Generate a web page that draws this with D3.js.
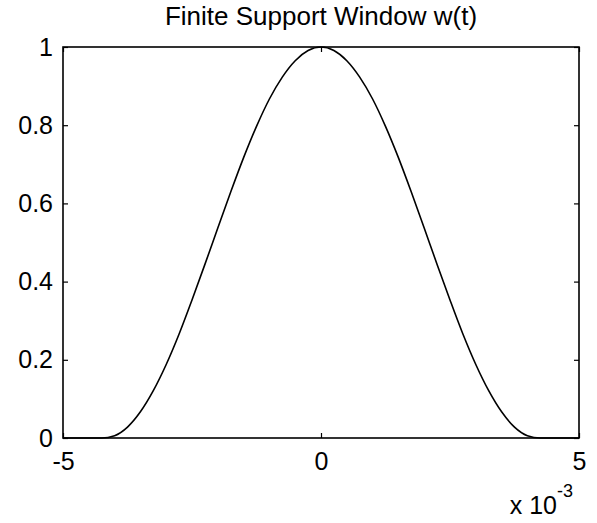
<!DOCTYPE html>
<html>
<head>
<meta charset="utf-8">
<script src="https://cdn.jsdelivr.net/npm/d3@7"></script>
<style>
  body { margin: 0; background: #fff; }
  text { font-family: "Liberation Sans", Arial, sans-serif; fill: #000; }
</style>
</head>
<body>
<div id="chart"></div>
<script>
/* valores (t en unidades de 1e-3) */
const tValues = [-5, -4.5, -4.25, -4, -3.75, -3.5, -3.25, -3, -2.75, -2.5, -2.25, -2, -1.75, -1.5, -1.25, -1, -0.75, -0.5, -0.25,
  0, 0.25, 0.5, 0.75, 1, 1.25, 1.5, 1.75, 2, 2.25, 2.5, 2.75, 3, 3.25, 3.5, 3.75, 4, 4.25, 4.5, 5];
const wValues = [0, 0, 0, 0.006, 0.028, 0.067, 0.121, 0.188, 0.266, 0.353, 0.444, 0.537, 0.629, 0.717, 0.797, 0.867, 0.923, 0.965, 0.991,
  1, 0.991, 0.965, 0.923, 0.867, 0.797, 0.717, 0.629, 0.537, 0.444, 0.353, 0.266, 0.188, 0.121, 0.067, 0.028, 0.006, 0, 0, 0];
const xTicks = [-5, 0, 5];
const yTicks = [0, 0.2, 0.4, 0.6, 0.8, 1];
const title = 'Finite Support Window w(t)';

const w = 597, h = 523;
const margin = { left: 63, right: 18, top: 47, bottom: 85 };

const svg = d3.select('#chart').append('svg')
  .attr('width', w)
  .attr('height', h);

const x = d3.scaleLinear().domain([-5, 5]).range([margin.left, w - margin.right]);
const y = d3.scaleLinear().domain([0, 1]).range([h - margin.bottom, margin.top]);

/*Ejes con ticks hacia adentro*/
const tickLen = 5;
const fmt = d => String(d);

svg.append('g')
  .attr('transform', `translate(0,${y(0)})`)
  .call(d3.axisBottom(x).tickValues(xTicks).tickSize(-tickLen).tickPadding(14).tickFormat(fmt))
  .call(g => g.select('.domain').remove());

svg.append('g')
  .attr('transform', `translate(0,${y(1)})`)
  .call(d3.axisTop(x).tickValues(xTicks).tickSize(-tickLen).tickFormat(''))
  .call(g => g.select('.domain').remove());

svg.append('g')
  .attr('transform', `translate(${x(-5)},0)`)
  .call(d3.axisLeft(y).tickValues(yTicks).tickSize(-tickLen).tickPadding(10).tickFormat(fmt))
  .call(g => g.select('.domain').remove());

svg.append('g')
  .attr('transform', `translate(${x(5)},0)`)
  .call(d3.axisRight(y).tickValues(yTicks).tickSize(-tickLen).tickFormat(''))
  .call(g => g.select('.domain').remove());

svg.selectAll('.tick line').attr('stroke', '#000').attr('stroke-width', 1.2);
svg.selectAll('.tick text')
  .style('font-size', '25px')
  .style('font-family', '"Liberation Sans", Arial, sans-serif');

/*Caja*/
svg.append('rect')
  .attr('x', x(-5))
  .attr('y', y(1))
  .attr('width', x(5) - x(-5))
  .attr('height', y(0) - y(1))
  .attr('fill', 'none')
  .attr('stroke', '#000')
  .attr('stroke-width', 1.6);

/*Curva*/
const line = d3.line()
  .x((d, i) => x(tValues[i]))
  .y(d => y(d))
  .curve(d3.curveMonotoneX);

svg.append('path')
  .datum(wValues)
  .attr('fill', 'none')
  .attr('stroke', '#000')
  .attr('stroke-width', 1.6)
  .attr('d', line);

/*Titulo*/
svg.append('text')
  .attr('x', (x(-5) + x(5)) / 2)
  .attr('y', 25)
  .attr('text-anchor', 'middle')
  .style('font-size', '26px')
  .text(title);

/*Exponente*/
svg.append('text')
  .attr('x', 557)
  .attr('y', 514)
  .attr('text-anchor', 'end')
  .style('font-size', '25px')
  .text('x 10');
svg.append('text')
  .attr('x', 557)
  .attr('y', 497)
  .style('font-size', '18px')
  .text('-3');
</script>
</body>
</html>
